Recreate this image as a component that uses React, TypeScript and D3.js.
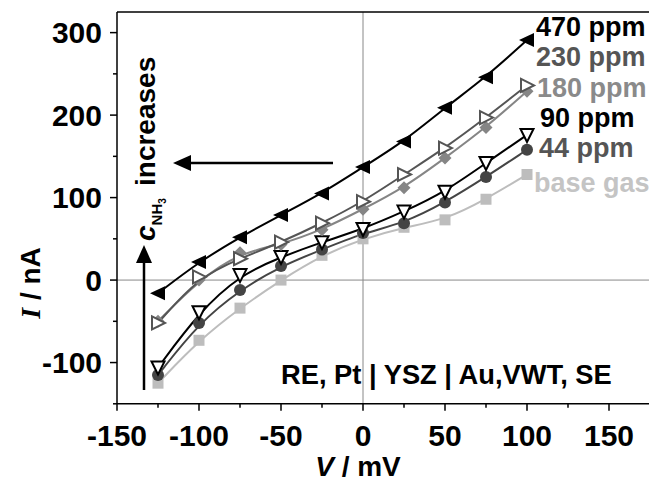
import * as d3 from "d3";

const voltage = [-125, -100, -75, -50, -25, 0, 25, 50, 75, 100];
const i470 = [-16, 22, 52, 79, 105, 137, 168, 209, 246, 291];
const i230 = [-52, 4, 26, 46, 69, 95, 128, 160, 197, 236];
const i180 = [-50, 0, 33, 43, 61, 86, 112, 148, 185, 229];
const i90 = [-106, -39, 6, 28, 46, 62, 83, 107, 142, 176];
const i44 = [-115, -52, -12, 17, 37, 57, 69, 94, 125, 158];
const iBase = [-125, -73, -34, 0, 30, 50, 64, 73, 98, 128];

const xTicks = [-150, -100, -50, 0, 50, 100, 150];
const yTicks = [-100, 0, 100, 200, 300];

const width = 649;
const height = 483;
const font = "'Liberation Sans', Arial, sans-serif";

// drawn back to front
const series = [
  { name: "base gas", values: iBase, color: "#bdbdbd", marker: "square", labelColor: "#c4c4c4" },
  { name: "44 ppm", values: i44, color: "#444", marker: "circle", labelColor: "#555" },
  { name: "90 ppm", values: i90, color: "#000", marker: "down", labelColor: "#000" },
  { name: "180 ppm", values: i180, color: "#858585", marker: "diamond", labelColor: "#8a8a8a" },
  { name: "230 ppm", values: i230, color: "#555", marker: "right", labelColor: "#555" },
  { name: "470 ppm", values: i470, color: "#000", marker: "left", labelColor: "#000" },
];

// label placement at right edge of plot
const labelPos: Record<string, [number, number]> = {
  "470 ppm": [536, 36],
  "230 ppm": [536, 66],
  "180 ppm": [537, 97],
  "90 ppm": [540, 127],
  "44 ppm": [539, 157],
  "base gas": [534, 192],
};

function Marker({ kind, color }: { kind: string; color: string }) {
  if (kind === "circle") return <circle r={6} fill={color} />;
  if (kind === "square") return <rect x={-5.5} y={-5.5} width={11} height={11} fill={color} />;
  if (kind === "diamond") return <path d="M0,-6.5L6.5,0L0,6.5L-6.5,0Z" fill={color} />;
  if (kind === "left") return <path d="M-8,0L7,-7L7,7Z" fill={color} />;
  if (kind === "right")
    return <path d="M7,0L-6,-6.5L-6,6.5Z" fill="#fff" stroke={color} strokeWidth={2} />;
  return <path d="M-6.5,-6L6.5,-6L0,7Z" fill="#fff" stroke={color} strokeWidth={2} />;
}

export default function App() {
  const x = d3.scaleLinear().domain([-150, 175]).range([117, 650]);
  const y = d3.scaleLinear().domain([-150, 325]).range([403.8, 12]);

  const line = d3
    .line<number>()
    .x((_, i) => x(voltage[i]))
    .y((d) => y(d))
    .curve(d3.curveBasis);

  const minorX = d3.range(-125, 176, 50);
  const minorY = d3.range(-150, 326, 50).filter((v) => v % 100 !== 0);

  return (
    <svg
      width={width}
      height={height}
      style={{ position: "absolute", left: 0, top: 0, background: "#fff" }}
      fontFamily={font}
      fontWeight="bold"
    >
      {/* zero lines */}
      <line x1={x(0)} x2={x(0)} y1={y(325)} y2={y(-150)} stroke="#888" strokeWidth={1} />
      <line x1={x(-150)} x2={width} y1={y(0)} y2={y(0)} stroke="#888" strokeWidth={1} />

      {/* frame */}
      <line x1={x(-150)} x2={width} y1={y(325)} y2={y(325)} stroke="#000" strokeWidth={1.5} />
      <line x1={x(-150)} x2={x(-150)} y1={y(325)} y2={y(-150)} stroke="#000" strokeWidth={1.5} />
      <line x1={x(-150)} x2={width} y1={y(-150)} y2={y(-150)} stroke="#000" strokeWidth={1.5} />

      {/* y ticks */}
      {yTicks.map((t) => (
        <g key={t}>
          <line x1={x(-150) - 7} x2={x(-150)} y1={y(t)} y2={y(t)} stroke="#000" strokeWidth={1.5} />
          <text x={102} y={y(t)} dy="0.36em" textAnchor="end" fontSize={30}>
            {t}
          </text>
        </g>
      ))}
      {minorY.map((t) => (
        <line key={t} x1={x(-150) - 4} x2={x(-150)} y1={y(t)} y2={y(t)} stroke="#000" strokeWidth={1.5} />
      ))}

      {/* x ticks */}
      {xTicks.map((t) => (
        <g key={t}>
          <line x1={x(t)} x2={x(t)} y1={y(-150)} y2={y(-150) + 7} stroke="#000" strokeWidth={1.5} />
          <text x={x(t)} y={446} textAnchor="middle" fontSize={30}>
            {t}
          </text>
        </g>
      ))}
      {minorX.map((t) => (
        <line key={t} x1={x(t)} x2={x(t)} y1={y(-150)} y2={y(-150) + 4} stroke="#000" strokeWidth={1.5} />
      ))}

      {/* axis titles */}
      <text x={358} y={476} textAnchor="middle" fontSize={28}>
        <tspan fontStyle="italic">V</tspan> / mV
      </text>
      <text transform="translate(40,283) rotate(-90)" textAnchor="middle" fontSize={28}>
        <tspan fontStyle="italic" fontFamily="'Liberation Serif', 'Times New Roman', serif">
          I
        </tspan>
        <tspan> / nA</tspan>
      </text>

      {/* curves */}
      {series.map((s) => (
        <path key={s.name} d={line(s.values) ?? ""} fill="none" stroke={s.color} strokeWidth={2} />
      ))}
      {series.map((s) => (
        <g key={s.name}>
          {s.values.map((v, i) => (
            <g key={i} transform={`translate(${x(voltage[i])},${y(v)})`}>
              <Marker kind={s.marker} color={s.color} />
            </g>
          ))}
        </g>
      ))}

      {/* series labels */}
      {series.map((s) => (
        <text
          key={s.name}
          x={labelPos[s.name][0]}
          y={labelPos[s.name][1]}
          fontSize={27}
          fill={s.labelColor}
        >
          {s.name}
        </text>
      ))}

      {/* annotation */}
      <text x={281} y={384} fontSize={27.3}>
        RE, Pt | YSZ | Au,VWT, SE
      </text>

      {/* concentration arrows */}
      <line x1={144} x2={144} y1={390} y2={260} stroke="#000" strokeWidth={2.5} />
      <path d="M144,245L136,263L152,263Z" fill="#000" />
      <line x1={333} x2={188} y1={163} y2={163} stroke="#000" strokeWidth={2.5} />
      <path d="M173,163L191,155L191,171Z" fill="#000" />

      <text transform="translate(155,241) rotate(-90)" fontSize={28}>
        <tspan fontStyle="italic">c</tspan>
        <tspan fontSize={15} dy={7}>
          NH
        </tspan>
        <tspan fontSize={10} dy={4}>
          3
        </tspan>
      </text>
      <text transform="translate(155,186) rotate(-90)" fontSize={28}>
        increases
      </text>
    </svg>
  );
}
